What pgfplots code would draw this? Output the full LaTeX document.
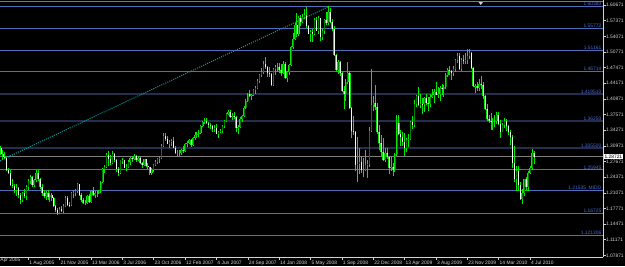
\documentclass[border=0pt]{standalone}
\usepackage{pgfplots}
\pgfplotsset{compat=1.18}
\usepackage{pgfplotstable}
\usepackage{fontspec}
\setmainfont{Liberation Sans}
\definecolor{wick}{RGB}{0,235,0}
\definecolor{bullin}{RGB}{0,128,0}
\definecolor{bearin}{RGB}{235,255,235}
\definecolor{fibl}{RGB}{80,110,185}
\definecolor{fibd}{RGB}{38,46,78}
\definecolor{fibtxt}{RGB}{75,105,210}
\definecolor{trend}{RGB}{0,165,165}
\definecolor{axgray}{RGB}{210,210,210}
\definecolor{curgray}{RGB}{125,125,125}

\pgfplotstableread{
b o h l c
0 1.2880 1.3000 1.2850 1.2950
1 1.2950 1.3090 1.2920 1.3050
2 1.3050 1.3100 1.2900 1.2920
3 1.2920 1.3010 1.2800 1.2870
4 1.2870 1.2960 1.2820 1.2840
5 1.2840 1.2850 1.2560 1.2580
6 1.2580 1.2640 1.2500 1.2520
7 1.2520 1.2590 1.2240 1.2270
8 1.2270 1.2400 1.2200 1.2250
9 1.2250 1.2290 1.2100 1.2160
10 1.2160 1.2300 1.2040 1.2210
11 1.2210 1.2230 1.2000 1.2050
12 1.2050 1.2110 1.1880 1.1950
13 1.1950 1.2130 1.1910 1.2100
14 1.2100 1.2180 1.2000 1.2040
15 1.2040 1.2270 1.1960 1.2230
16 1.2230 1.2400 1.2160 1.2350
17 1.2350 1.2480 1.2290 1.2440
18 1.2440 1.2460 1.2230 1.2270
19 1.2270 1.2400 1.2220 1.2370
20 1.2370 1.2590 1.2330 1.2530
21 1.2530 1.2580 1.2360 1.2400
22 1.2400 1.2420 1.2190 1.2230
23 1.2230 1.2290 1.2040 1.2100
24 1.2100 1.2170 1.1990 1.2040
25 1.2040 1.2150 1.1950 1.2110
26 1.2110 1.2170 1.1960 1.2010
27 1.2010 1.2110 1.1920 1.2060
28 1.2060 1.2100 1.1930 1.1990
29 1.1990 1.2010 1.1800 1.1830
30 1.1830 1.1850 1.1700 1.1740
31 1.1740 1.1780 1.1640 1.1690
32 1.1690 1.1800 1.1650 1.1760
33 1.1760 1.1820 1.1700 1.1720
34 1.1720 1.1880 1.1690 1.1830
35 1.1830 1.2040 1.1800 1.2000
36 1.2000 1.2040 1.1830 1.1850
37 1.1850 1.1920 1.1800 1.1840
38 1.1840 1.2130 1.1830 1.2100
39 1.2100 1.2170 1.2000 1.2110
40 1.2110 1.2180 1.2030 1.2140
41 1.2140 1.2320 1.2100 1.2300
42 1.2300 1.2300 1.2030 1.2050
43 1.2050 1.2100 1.1920 1.1950
44 1.1950 1.2000 1.1860 1.1900
45 1.1900 1.1960 1.1840 1.1900
46 1.1900 1.2060 1.1880 1.2040
47 1.2040 1.2080 1.1900 1.1920
48 1.1920 1.2160 1.1900 1.2140
49 1.2140 1.2230 1.2040 1.2050
50 1.2050 1.2150 1.1990 1.2110
51 1.2110 1.2170 1.2020 1.2110
52 1.2110 1.2170 1.2080 1.2130
53 1.2130 1.2350 1.2100 1.2340
54 1.2340 1.2630 1.2320 1.2600
55 1.2600 1.2690 1.2520 1.2650
56 1.2650 1.2950 1.2640 1.2900
57 1.2900 1.2980 1.2680 1.2820
58 1.2820 1.2900 1.2690 1.2730
59 1.2730 1.2980 1.2720 1.2920
60 1.2920 1.2950 1.2760 1.2800
61 1.2800 1.2820 1.2540 1.2600
62 1.2600 1.2650 1.2460 1.2530
63 1.2530 1.2800 1.2500 1.2790
64 1.2790 1.2850 1.2710 1.2800
65 1.2800 1.2800 1.2620 1.2640
66 1.2640 1.2710 1.2570 1.2650
67 1.2650 1.2790 1.2620 1.2760
68 1.2760 1.2860 1.2700 1.2840
69 1.2840 1.2880 1.2750 1.2810
70 1.2810 1.2920 1.2790 1.2880
71 1.2880 1.2910 1.2760 1.2790
72 1.2790 1.2880 1.2770 1.2840
73 1.2840 1.2870 1.2720 1.2730
74 1.2730 1.2760 1.2640 1.2700
75 1.2700 1.2830 1.2680 1.2810
76 1.2810 1.2820 1.2650 1.2680
77 1.2680 1.2730 1.2600 1.2650
78 1.2650 1.2660 1.2480 1.2530
79 1.2530 1.2620 1.2490 1.2590
80 1.2590 1.2720 1.2550 1.2700
81 1.2700 1.2790 1.2680 1.2760
82 1.2760 1.2850 1.2720 1.2820
83 1.2820 1.2890 1.2740 1.2850
84 1.2850 1.3130 1.2830 1.3090
85 1.3090 1.3370 1.3080 1.3310
86 1.3310 1.3360 1.3210 1.3250
87 1.3250 1.3300 1.3130 1.3130
88 1.3130 1.3220 1.3060 1.3180
89 1.3180 1.3250 1.3100 1.3200
90 1.3200 1.3280 1.3050 1.3060
91 1.3060 1.3090 1.2930 1.2950
92 1.2950 1.3010 1.2870 1.2950
93 1.2950 1.3000 1.2890 1.2950
94 1.2950 1.3030 1.2900 1.3010
95 1.3010 1.3090 1.2950 1.2980
96 1.2980 1.3160 1.2960 1.3140
97 1.3140 1.3200 1.3080 1.3150
98 1.3150 1.3250 1.3140 1.3220
99 1.3220 1.3250 1.3080 1.3120
100 1.3120 1.3290 1.3100 1.3270
101 1.3270 1.3380 1.3230 1.3330
102 1.3330 1.3400 1.3260 1.3350
103 1.3350 1.3440 1.3290 1.3360
104 1.3360 1.3540 1.3340 1.3520
105 1.3520 1.3620 1.3500 1.3590
106 1.3590 1.3680 1.3560 1.3620
107 1.3620 1.3680 1.3550 1.3580
108 1.3580 1.3610 1.3480 1.3530
109 1.3530 1.3570 1.3460 1.3520
110 1.3520 1.3530 1.3400 1.3450
111 1.3450 1.3530 1.3390 1.3480
112 1.3480 1.3550 1.3340 1.3350
113 1.3350 1.3410 1.3260 1.3380
114 1.3380 1.3450 1.3360 1.3420
115 1.3420 1.3530 1.3370 1.3510
116 1.3510 1.3640 1.3480 1.3620
117 1.3620 1.3780 1.3590 1.3760
118 1.3760 1.3850 1.3740 1.3810
119 1.3810 1.3850 1.3690 1.3710
120 1.3710 1.3800 1.3640 1.3720
121 1.3720 1.3810 1.3660 1.3700
122 1.3700 1.3730 1.3400 1.3480
123 1.3480 1.3540 1.3350 1.3500
124 1.3500 1.3700 1.3480 1.3660
125 1.3660 1.3740 1.3600 1.3720
126 1.3720 1.3930 1.3700 1.3900
127 1.3900 1.4080 1.3880 1.4050
128 1.4050 1.4220 1.4030 1.4200
129 1.4200 1.4280 1.4120 1.4150
130 1.4150 1.4200 1.4070 1.4180
131 1.4180 1.4300 1.4150 1.4280
132 1.4280 1.4350 1.4190 1.4310
133 1.4310 1.4500 1.4300 1.4470
134 1.4470 1.4620 1.4430 1.4600
135 1.4600 1.4750 1.4550 1.4650
136 1.4650 1.4880 1.4620 1.4820
137 1.4820 1.4970 1.4720 1.4760
138 1.4760 1.4780 1.4560 1.4640
139 1.4640 1.4760 1.4560 1.4620
140 1.4620 1.4640 1.4350 1.4390
141 1.4390 1.4750 1.4370 1.4720
142 1.4720 1.4800 1.4600 1.4760
143 1.4760 1.4850 1.4650 1.4760
144 1.4760 1.4850 1.4630 1.4690
145 1.4690 1.4820 1.4580 1.4640
146 1.4640 1.4880 1.4620 1.4830
147 1.4830 1.4870 1.4500 1.4520
148 1.4520 1.4680 1.4440 1.4650
149 1.4650 1.4830 1.4600 1.4800
150 1.4800 1.5200 1.4780 1.5180
151 1.5180 1.5470 1.5130 1.5360
152 1.5360 1.5680 1.5330 1.5650
153 1.5650 1.5900 1.5400 1.5450
154 1.5450 1.5840 1.5420 1.5790
155 1.5790 1.5850 1.5620 1.5700
156 1.5700 1.5880 1.5680 1.5810
157 1.5810 1.5980 1.5770 1.5850
158 1.5850 1.6020 1.5580 1.5620
159 1.5620 1.5640 1.5450 1.5460
160 1.5460 1.5540 1.5280 1.5500
161 1.5500 1.5560 1.5290 1.5450
162 1.5450 1.5790 1.5430 1.5760
163 1.5760 1.5810 1.5510 1.5530
164 1.5530 1.5840 1.5460 1.5800
165 1.5800 1.5800 1.5300 1.5390
166 1.5390 1.5570 1.5340 1.5520
167 1.5520 1.5780 1.5450 1.5760
168 1.5760 1.5920 1.5640 1.5680
169 1.5680 1.6038 1.5650 1.5930
170 1.5930 1.6000 1.5680 1.5710
171 1.5710 1.5780 1.5530 1.5570
172 1.5570 1.5620 1.4990 1.5010
173 1.5010 1.5040 1.4660 1.4700
174 1.4700 1.4900 1.4620 1.4860
175 1.4860 1.4880 1.4580 1.4630
176 1.4630 1.4660 1.4230 1.4260
177 1.4260 1.4360 1.3880 1.4200
178 1.4200 1.4500 1.4040 1.4450
179 1.4450 1.4870 1.4400 1.4630
180 1.4630 1.4670 1.3870 1.3890
181 1.3890 1.3920 1.3260 1.3420
182 1.3420 1.3720 1.3330 1.3390
183 1.3390 1.3420 1.2560 1.2700
184 1.2700 1.3290 1.2330 1.2720
185 1.2720 1.3050 1.2500 1.2750
186 1.2750 1.2880 1.2520 1.2580
187 1.2580 1.2850 1.2430 1.2580
188 1.2580 1.3000 1.2560 1.2690
189 1.2690 1.2800 1.2420 1.2710
190 1.2710 1.3500 1.2650 1.3410
191 1.3410 1.4720 1.3400 1.3950
192 1.3950 1.4150 1.3830 1.4010
193 1.4010 1.4380 1.3860 1.3920
194 1.3920 1.4000 1.3350 1.3400
195 1.3400 1.3530 1.3000 1.3150
196 1.3150 1.3330 1.2880 1.2960
197 1.2960 1.3260 1.2780 1.2800
198 1.2800 1.3050 1.2760 1.2950
199 1.2950 1.3060 1.2830 1.2860
200 1.2860 1.2890 1.2510 1.2640
201 1.2640 1.2880 1.2560 1.2660
202 1.2660 1.2740 1.2460 1.2580
203 1.2580 1.2950 1.2550 1.2920
204 1.2920 1.3740 1.2890 1.3580
205 1.3580 1.3740 1.3330 1.3340
206 1.3340 1.3440 1.3100 1.3280
207 1.3280 1.3380 1.3100 1.3170
208 1.3170 1.3370 1.2890 1.3050
209 1.3050 1.3270 1.2960 1.3230
210 1.3230 1.3340 1.3070 1.3250
211 1.3250 1.3630 1.3220 1.3590
212 1.3590 1.3730 1.3450 1.3530
213 1.3530 1.4060 1.3500 1.3990
214 1.3990 1.4180 1.3910 1.4150
215 1.4150 1.4340 1.3930 1.3960
216 1.3960 1.4200 1.3890 1.3990
217 1.3990 1.4110 1.3760 1.3980
218 1.3980 1.4120 1.3820 1.4110
219 1.4110 1.4200 1.3950 1.4000
220 1.4000 1.4120 1.3840 1.3990
221 1.3990 1.4190 1.3920 1.4120
222 1.4120 1.4290 1.4100 1.4170
223 1.4170 1.4300 1.4000 1.4240
224 1.4240 1.4440 1.4170 1.4180
225 1.4180 1.4340 1.4110 1.4190
226 1.4190 1.4370 1.4050 1.4320
227 1.4320 1.4410 1.4180 1.4300
228 1.4300 1.4380 1.4130 1.4330
229 1.4330 1.4630 1.4300 1.4590
230 1.4590 1.4730 1.4560 1.4700
231 1.4700 1.4790 1.4600 1.4680
232 1.4680 1.4700 1.4480 1.4640
233 1.4640 1.4780 1.4580 1.4720
234 1.4720 1.4920 1.4660 1.4900
235 1.4900 1.5050 1.4850 1.4990
236 1.4990 1.5060 1.4700 1.4720
237 1.4720 1.4960 1.4670 1.4910
238 1.4910 1.5010 1.4830 1.4880
239 1.4880 1.5060 1.4830 1.4900
240 1.4900 1.5140 1.4830 1.5000
241 1.5000 1.5140 1.4920 1.5050
242 1.5050 1.5080 1.4710 1.4740
243 1.4740 1.4770 1.4330 1.4350
244 1.4350 1.4410 1.4220 1.4370
245 1.4370 1.4450 1.4260 1.4320
246 1.4320 1.4510 1.4260 1.4410
247 1.4410 1.4580 1.4300 1.4380
248 1.4380 1.4450 1.4090 1.4140
249 1.4140 1.4180 1.3860 1.3870
250 1.3870 1.3990 1.3620 1.3670
251 1.3670 1.3750 1.3580 1.3630
252 1.3630 1.3780 1.3440 1.3610
253 1.3610 1.3690 1.3440 1.3620
254 1.3620 1.3740 1.3500 1.3630
255 1.3630 1.3820 1.3560 1.3740
256 1.3740 1.3820 1.3530 1.3560
257 1.3560 1.3640 1.3270 1.3400
258 1.3400 1.3580 1.3380 1.3530
259 1.3530 1.3690 1.3470 1.3620
260 1.3620 1.3660 1.3420 1.3510
261 1.3510 1.3540 1.3330 1.3380
262 1.3380 1.3440 1.3110 1.3290
263 1.3290 1.3320 1.2620 1.2740
264 1.2740 1.3090 1.2340 1.2390
265 1.2390 1.2670 1.2150 1.2560
266 1.2560 1.2670 1.2140 1.2270
267 1.2270 1.2330 1.1950 1.1970
268 1.1970 1.2180 1.1880 1.2110
269 1.2110 1.2400 1.2040 1.2390
270 1.2390 1.2450 1.2150 1.2220
271 1.2220 1.2560 1.2150 1.2530
272 1.2530 1.2670 1.2510 1.2630
273 1.2630 1.3030 1.2590 1.2940
274 1.2940 1.2990 1.2720 1.2872
}\eurusd

\pgfplotsset{
  candle/.style n args={2}{draw=none, mark=none, forget plot,
    error bars/y dir=plus, error bars/y explicit, error bars/error mark=none,
    error bars/error bar style={draw=#1, line width=#2, solid, line cap=butt}},
}

\begin{document}
\begin{tikzpicture}
\fill[black] (0pt,-9pt) rectangle (625pt,257pt);
\begin{axis}[
  at={(0pt,0pt)}, anchor=south west,
  scale only axis, width=603pt, height=257pt,
  xmin=1.561, xmax=309.2, ymin=1.07523, ymax=1.61742,
  axis x line*=bottom, axis y line*=right,
  axis line style={-, draw=axgray, line width=0.6pt},
  tick align=outside, major tick length=2.5pt,
  tick style={draw=axgray, line width=0.5pt},
  xtick={16,32,...,272},
  xticklabels={1 Aug 2005,21 Nov 2005,13 Mar 2006,3 Jul 2006,23 Oct 2006,12 Feb 2007,4 Jun 2007,24 Sep 2007,14 Jan 2008,5 May 2008,1 Sep 2008,22 Dec 2008,13 Apr 2009,3 Aug 2009,23 Nov 2009,14 Mar 2010,4 Jul 2010},
  xticklabel style={anchor=north west, inner sep=0pt, xshift=0.8pt, yshift=-1.2pt, font=\fontsize{4.9}{5}\selectfont, text=axgray},
  ytick={1.07871,1.11171,1.14471,1.17771,1.21071,1.24371,1.27671,1.30971,1.34271,1.37571,1.40871,1.44171,1.47471,1.50771,1.54071,1.57371,1.60671},
  yticklabels={1.07871,1.11171,1.14471,1.17771,1.21071,1.24371,1.27671,1.30971,1.34271,1.37571,1.40871,1.44171,1.47471,1.50771,1.54071,1.57371,1.60671},
  yticklabel style={anchor=west, inner sep=0pt, xshift=0.3pt, font=\fontsize{4.9}{5}\selectfont, text=axgray},
  clip=true,
]
% top gray line
\addplot[curgray, line width=0.9pt, forget plot] coordinates {(1.561,1.6143) (309.2,1.6143)};
% Fibonacci levels
\addplot[fibl, line width=0.8pt, forget plot] coordinates {(1.561,1.60380) (309.2,1.60380)};
\addplot[fibl, line width=0.8pt, forget plot] coordinates {(1.561,1.55772) (309.2,1.55772)};
\addplot[fibl, line width=0.8pt, forget plot] coordinates {(1.561,1.51161) (309.2,1.51161)};
\addplot[fibl, line width=0.8pt, forget plot] coordinates {(1.561,1.46714) (309.2,1.46714)};
\addplot[fibd, line width=1.8pt, forget plot] coordinates {(1.561,1.41951) (309.2,1.41951)};
\addplot[fibd, line width=1.8pt, forget plot] coordinates {(1.561,1.36250) (309.2,1.36250)};
\addplot[fibd, line width=1.8pt, forget plot] coordinates {(1.561,1.30550) (309.2,1.30550)};
\addplot[curgray, line width=0.8pt, forget plot] coordinates {(1.561,1.28721) (309.2,1.28721)};
\addplot[fibl, line width=0.8pt, forget plot] coordinates {(1.561,1.25945) (309.2,1.25945)};
\addplot[fibl, line width=0.8pt, forget plot] coordinates {(1.561,1.21535) (309.2,1.21535)};
\addplot[fibl, line width=0.8pt, forget plot] coordinates {(1.561,1.16725) (309.2,1.16725)};
\addplot[fibl, line width=0.8pt, forget plot] coordinates {(1.561,1.121306) (309.2,1.121306)};
% trend line
\addplot[trend, line width=1pt, dash pattern=on 1pt off 1.2pt, forget plot] coordinates {(1.561,1.2784) (169.5,1.6038)};
% wicks
\addplot[candle={wick}{0.75pt}]
  table[x=b, y=l, y error expr=\thisrow{h}-\thisrow{l}] {\eurusd};
% bull bodies
\addplot[restrict expr to domain={\thisrow{c}-\thisrow{o}}{0:1}, candle={wick}{1.5pt}]
  table[x=b, y=o, y error expr=\thisrow{c}-\thisrow{o}] {\eurusd};
\addplot[restrict expr to domain={\thisrow{c}-\thisrow{o}}{0:1}, candle={bullin}{0.6pt}]
  table[x=b, y=o, y error expr=\thisrow{c}-\thisrow{o}] {\eurusd};
% bear bodies
\addplot[restrict expr to domain={\thisrow{o}-\thisrow{c}}{0.00001:1}, candle={wick}{1.5pt}]
  table[x=b, y=c, y error expr=\thisrow{o}-\thisrow{c}] {\eurusd};
\addplot[restrict expr to domain={\thisrow{o}-\thisrow{c}}{0.00001:1}, candle={bearin}{0.6pt}]
  table[x=b, y=c, y error expr=\thisrow{o}-\thisrow{c}] {\eurusd};
% level labels
\begin{scope}[every node/.style={anchor=south east, inner sep=0.4pt, text=fibtxt, font=\fontsize{4.9}{5}\selectfont}]
\node at (axis cs:308.6,1.60380) {1.60380};
\node at (axis cs:308.6,1.55772) {1.55772};
\node at (axis cs:308.6,1.51161) {1.51161};
\node at (axis cs:308.6,1.46714) {1.46714};
\node at (axis cs:308.6,1.41951) {1.419510};
\node at (axis cs:308.6,1.36250) {1.36250};
\node at (axis cs:308.6,1.30550) {1.305500};
\node at (axis cs:308.6,1.25945) {1.25945};
\node at (axis cs:308.6,1.21535) {1.21535\ \ MIDD};
\node at (axis cs:308.6,1.16725) {1.16725};
\node at (axis cs:308.6,1.121306) {1.121306};
\end{scope}
\coordinate (cur) at (axis cs:309.2,1.28721);
\end{axis}
\node[anchor=west, fill=white, text=black, inner sep=0.5pt, font=\fontsize{4.9}{5}\selectfont] at ([xshift=0.8pt]cur) {1.28721};
\node[anchor=north west, inner sep=0pt, text=axgray, font=\fontsize{4.9}{5}\selectfont] at (0.3pt,-1.2pt) {Apr 2005};
\fill[axgray] (478.5pt,255pt) -- (483pt,255pt) -- (480.75pt,252pt) -- cycle;
\pgfresetboundingbox
\path[use as bounding box] (0pt,-9pt) rectangle (625pt,257pt);
\end{tikzpicture}
\end{document}
